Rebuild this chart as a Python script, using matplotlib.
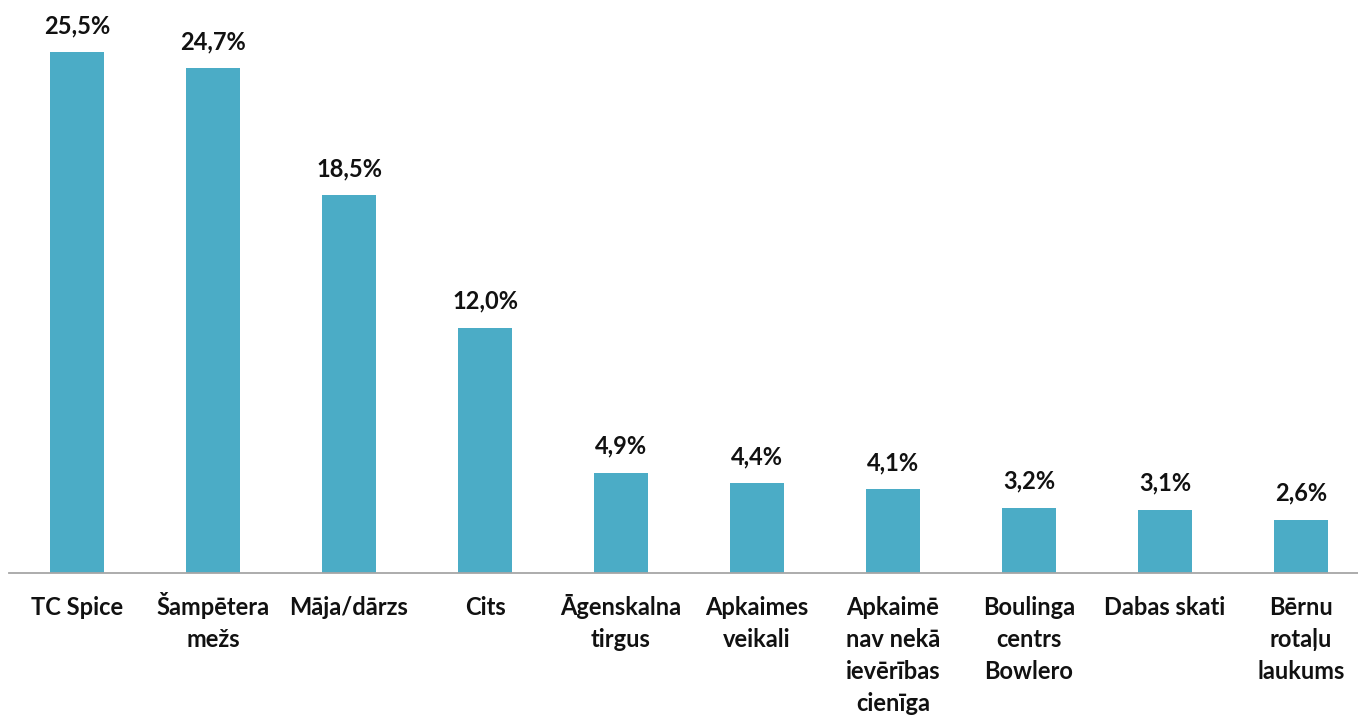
import matplotlib
matplotlib.use("Agg")
import matplotlib.pyplot as plt

categories = ["TC Spice", "Šampētera\nmežs", "Māja/dārzs", "Cits", "Āgenskalna\ntirgus",
              "Apkaimes\nveikali", "Apkaimē\nnav nekā\nievērības\ncienīga", "Boulinga\ncentrs\nBowlero",
              "Dabas skati", "Bērnu\nrotaļu\nlaukums"]
values = [25.5, 24.7, 18.5, 12.0, 4.9, 4.4, 4.1, 3.2, 3.1, 2.6]

plt.rcParams['font.family'] = ['Lato', 'DejaVu Sans']

fig = plt.figure(figsize=(13.58, 7.16), dpi=100)
W, H = 1358, 716
ax = fig.add_axes([9 / W, (H - 573) / H, 1360 / W, (573 - 52) / H])

x = list(range(len(values)))
ax.bar(x, values, width=0.4, color="#4BACC6", zorder=2)
ax.set_xlim(-0.5, len(values) - 0.5)
ax.set_ylim(0, 25.5)

for xi, v in zip(x, values):
    ax.annotate(f"{v:.1f}%".replace(".", ","), (xi, v), xytext=(0, 19), textcoords="offset pixels",
                ha="center", va="baseline", fontsize=17, fontweight="bold", color="#111111")

# category labels, each line placed on its own baseline
for xi, lab in zip(x, categories):
    for i, line in enumerate(lab.split("\n")):
        ax.annotate(line, (xi, 0), xycoords=("data", "axes fraction"),
                    xytext=(0, -42 - 32 * i), textcoords="offset pixels",
                    ha="center", va="baseline", fontsize=17, fontweight="bold",
                    color="#111111", annotation_clip=False)

ax.set_xticks(x)
ax.set_xticklabels([])
ax.tick_params(axis="x", length=0)
ax.set_yticks([])
for s in ["top", "right", "left"]:
    ax.spines[s].set_visible(False)
ax.spines["bottom"].set_color("#A6A6A6")
ax.spines["bottom"].set_linewidth(1.3)
ax.spines["bottom"].set_zorder(3)

fig.savefig("out.png", dpi=100)
